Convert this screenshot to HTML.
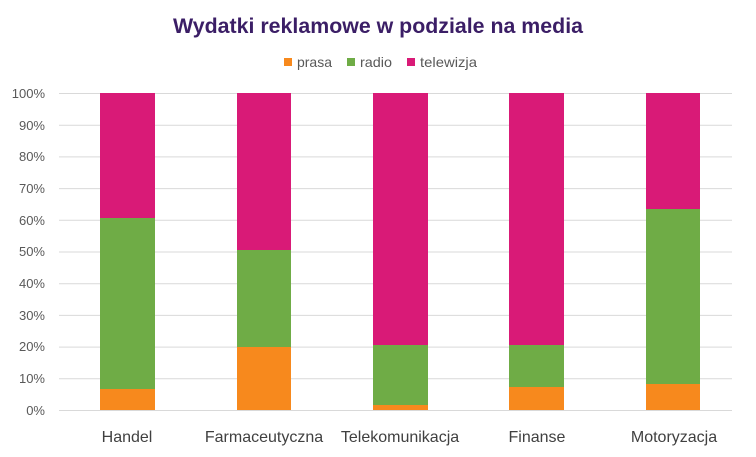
<!DOCTYPE html>
<html><head><style>
body{margin:0;background:#fff;}
svg{display:block;font-family:"Liberation Sans",sans-serif;}
</style></head><body>
<svg width="756" height="457" xmlns="http://www.w3.org/2000/svg">
<rect width="756" height="457" fill="#fff"/>
<text x="173" y="33" font-size="21" font-weight="bold" fill="#3b1e66" textLength="410" lengthAdjust="spacingAndGlyphs">Wydatki reklamowe w podziale na media</text>
<g font-size="14" fill="#595959">
<rect x="284" y="58" width="8" height="8" fill="#f7891d"/><text x="297" y="67" textLength="35" lengthAdjust="spacingAndGlyphs">prasa</text>
<rect x="347" y="58" width="8" height="8" fill="#6fac46"/><text x="360" y="67" textLength="32" lengthAdjust="spacingAndGlyphs">radio</text>
<rect x="407" y="58" width="8" height="8" fill="#d91a77"/><text x="420" y="67" textLength="57" lengthAdjust="spacingAndGlyphs">telewizja</text>
</g>
<g stroke="#d9d9d9" stroke-width="1">
<line x1="59" x2="732" y1="93.5" y2="93.5"/><line x1="59" x2="732" y1="125.2" y2="125.2"/><line x1="59" x2="732" y1="156.9" y2="156.9"/><line x1="59" x2="732" y1="188.6" y2="188.6"/><line x1="59" x2="732" y1="220.3" y2="220.3"/><line x1="59" x2="732" y1="252" y2="252"/><line x1="59" x2="732" y1="283.7" y2="283.7"/><line x1="59" x2="732" y1="315.4" y2="315.4"/><line x1="59" x2="732" y1="347.1" y2="347.1"/><line x1="59" x2="732" y1="378.8" y2="378.8"/><line x1="59" x2="732" y1="410.5" y2="410.5"/>
</g>
<g font-size="13" fill="#595959" text-anchor="end">
<text x="45" y="98">100%</text><text x="45" y="130">90%</text><text x="45" y="161">80%</text><text x="45" y="193">70%</text><text x="45" y="225">60%</text><text x="45" y="256">50%</text><text x="45" y="288">40%</text><text x="45" y="320">30%</text><text x="45" y="351">20%</text><text x="45" y="383">10%</text><text x="45" y="415">0%</text>
</g>
<g>
<rect x="100" y="93" width="55" height="125" fill="#d91a77"/><rect x="100" y="218" width="55" height="171" fill="#6fac46"/><rect x="100" y="389" width="55" height="21" fill="#f7891d"/>
<rect x="237" y="93" width="54" height="157" fill="#d91a77"/><rect x="237" y="250" width="54" height="97" fill="#6fac46"/><rect x="237" y="347" width="54" height="63" fill="#f7891d"/>
<rect x="373" y="93" width="55" height="252" fill="#d91a77"/><rect x="373" y="345" width="55" height="60" fill="#6fac46"/><rect x="373" y="405" width="55" height="5" fill="#f7891d"/>
<rect x="509" y="93" width="55" height="252" fill="#d91a77"/><rect x="509" y="345" width="55" height="42" fill="#6fac46"/><rect x="509" y="387" width="55" height="23" fill="#f7891d"/>
<rect x="646" y="93" width="54" height="116" fill="#d91a77"/><rect x="646" y="209" width="54" height="175" fill="#6fac46"/><rect x="646" y="384" width="54" height="26" fill="#f7891d"/>
</g>
<g font-size="16" fill="#404040" text-anchor="middle">
<text x="127" y="442">Handel</text><text x="264" y="442">Farmaceutyczna</text><text x="400" y="442">Telekomunikacja</text><text x="537" y="442">Finanse</text><text x="674" y="442">Motoryzacja</text>
</g>
</svg>
</body></html>
